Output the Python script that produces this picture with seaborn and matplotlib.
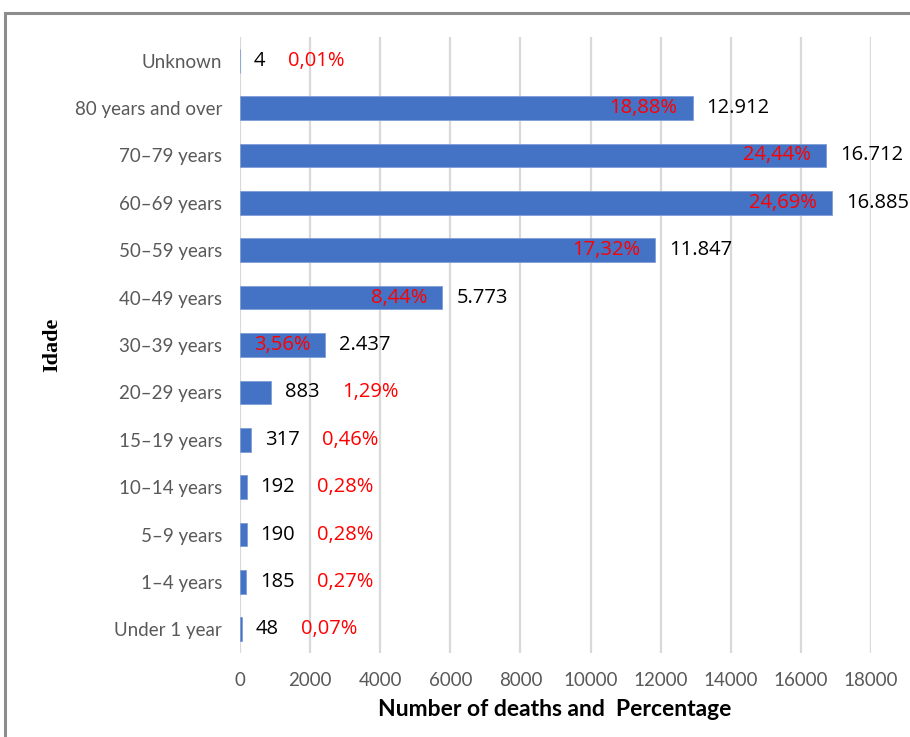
import matplotlib
matplotlib.use("Agg")
import matplotlib.pyplot as plt
from matplotlib.patches import Rectangle
import seaborn as sns
import pandas as pd

# Deaths by age group
age_groups = ["Unknown", "80 years and over", "70–79 years", "60–69 years",
              "50–59 years", "40–49 years", "30–39 years", "20–29 years",
              "15–19 years", "10–14 years", "5–9 years", "1–4 years",
              "Under 1 year"]
deaths = [4, 12912, 16712, 16885, 11847, 5773, 2437, 883, 317, 192, 190, 185, 48]
percent = [0.01, 18.88, 24.44, 24.69, 17.32, 8.44, 3.56, 1.29, 0.46, 0.28,
           0.28, 0.27, 0.07]
x_ticks = [0, 2000, 4000, 6000, 8000, 10000, 12000, 14000, 16000, 18000]

df = pd.DataFrame({"Idade": age_groups, "Deaths": deaths, "Pct": percent})

sns.set_theme(style="white")
plt.rcParams["font.family"] = ["Lato", "DejaVu Sans"]

BAR = "#4472C4"
GRID = "#D9D9D9"
TICK = "#595959"
LABEL_FONT = ["Open Sans", "DejaVu Sans"]

fig = plt.figure(figsize=(9.10, 7.37), dpi=100)
ax = fig.add_axes([240 / 910, 1 - 653 / 737, 631 / 910, 616 / 737])

sns.barplot(data=df, y="Idade", x="Deaths", orient="h", color=BAR,
            width=0.5, edgecolor="#7f9ed6", linewidth=0.6, saturation=1,
            ax=ax, zorder=3)

ax.set_xlim(0, 18000)
ax.set_xticks(x_ticks)
ax.set_xticklabels([str(t) for t in x_ticks])
ax.grid(axis="x", color=GRID, linewidth=1.6, zorder=0)
ax.grid(axis="y", visible=False)
ax.set_axisbelow(True)
for s in ax.spines.values():
    s.set_visible(False)
ax.tick_params(axis="both", length=0, colors=TICK)
ax.tick_params(axis="x", pad=14, labelsize=13.5)
ax.tick_params(axis="y", pad=13, labelsize=13.5)

ax.set_xlabel("Number of deaths and  Percentage", fontsize=16.5,
              fontweight="bold", color="black")
ax.xaxis.set_label_coords(0.499, -0.074)
ax.set_ylabel("Idade", fontsize=16, fontweight="bold", color="black",
              family=["Liberation Serif", "DejaVu Serif"])
ax.yaxis.set_label_coords(-0.282, 0.5)


def fmt_thousands(v):
    return f"{v:,}".replace(",", ".")


for i, (v, p) in enumerate(zip(deaths, percent)):
    pct_txt = f"{p:.2f}%".replace(".", ",")
    val = ax.annotate(fmt_thousands(v), xy=(v, i), xytext=(10, 0),
                      textcoords="offset points", va="center", ha="left",
                      fontsize=14.5, color="black", family=LABEL_FONT)
    if v >= 2000:
        ax.annotate(pct_txt, xy=(v, i), xytext=(-11, 0),
                    textcoords="offset points", va="center", ha="right",
                    fontsize=14.5, color="red", family=LABEL_FONT, zorder=4)
    else:
        ax.annotate(pct_txt, xy=(1, 0.5), xycoords=val, xytext=(16, 0),
                    textcoords="offset points", va="center", ha="left",
                    fontsize=14.5, color="red", family=LABEL_FONT)

# Outer frame of the chart area
fig.patches.append(Rectangle((5 / 910, -0.05), 1.2, 1 - 13 / 737 + 0.05,
                             transform=fig.transFigure, fill=False,
                             edgecolor="#8c8c8c", linewidth=2.2))

fig.savefig("out.png", dpi=100)
